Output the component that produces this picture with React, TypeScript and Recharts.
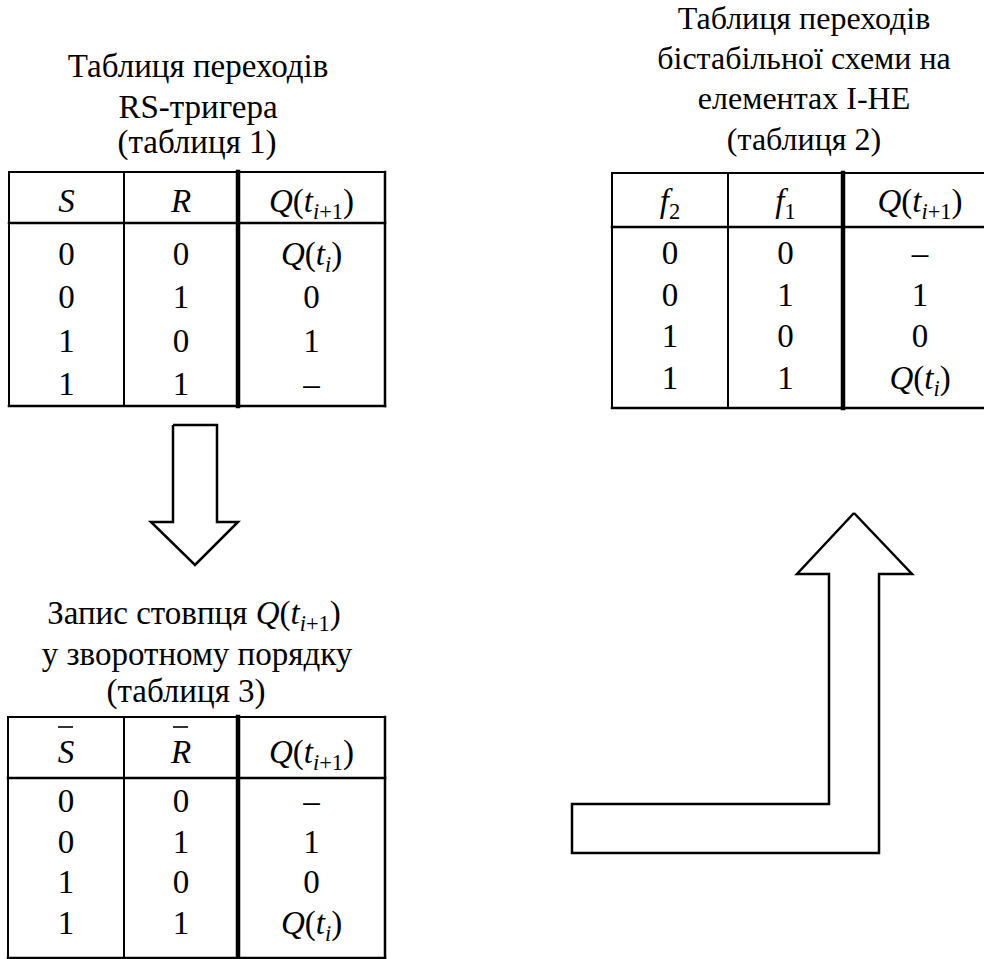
import { ComposedChart, XAxis, YAxis, Scatter, Line, ReferenceLine } from "recharts";

const W = 984;
const H = 959;
const FONT = "Liberation Serif";

// table 1: RS-trigger transitions
const t1Title = ["Таблиця переходів", "RS-тригера", "(таблиця 1)"];
const t1Header = ["$S$", "$R$", "$Q(t_{i+1})$"];
const t1S = ["0", "0", "1", "1"];
const t1R = ["0", "1", "0", "1"];
const t1Q = ["$Q(t_i)$", "0", "1", "–"];

// table 2: bistable circuit on NAND gates
const t2Title = ["Таблиця переходів", "бістабільної схеми на", "елементах І-НЕ", "(таблиця 2)"];
const t2Header = ["$f_2$", "$f_1$", "$Q(t_{i+1})$"];
const t2F2 = ["0", "0", "1", "1"];
const t2F1 = ["0", "1", "0", "1"];
const t2Q = ["–", "1", "0", "$Q(t_i)$"];

// table 3: Q column written in reverse order
const t3Title = ["Запис стовпця $Q(t_{i+1})$", "у зворотному порядку", "(таблиця 3)"];
const t3Header = ["$~S$", "$~R$", "$Q(t_{i+1})$"];
const t3S = ["0", "0", "1", "1"];
const t3R = ["0", "1", "0", "1"];
const t3Q = ["–", "1", "0", "$Q(t_i)$"];

// arrow outlines
const downArrow = [
  { x: 173, y: 425 }, { x: 217, y: 425 }, { x: 217, y: 522 }, { x: 238, y: 522 },
  { x: 195, y: 565 }, { x: 151, y: 522 }, { x: 173, y: 522 }, { x: 173, y: 425 },
];
const bentArrow = [
  { x: 854, y: 513 }, { x: 912, y: 574 }, { x: 879, y: 574 }, { x: 879, y: 853 },
  { x: 572, y: 853 }, { x: 572, y: 804 }, { x: 829, y: 804 }, { x: 829, y: 574 },
  { x: 797, y: 574 }, { x: 854, y: 513 },
];

type Layout = {
  edges: number[];
  top: number;
  sep: number;
  bottom: number;
  headBase: number;
  rowBase: number;
  rowStep: number;
  titleX: number[];
  titleBase: number[];
  titleSize: number;
  rightBorder: boolean;
};

const lay1: Layout = {
  edges: [9, 124, 238, 385], top: 172, sep: 223, bottom: 406,
  headBase: 212, rowBase: 265, rowStep: 43.3,
  titleX: [198, 198, 197], titleBase: [77, 118, 153], titleSize: 33, rightBorder: true,
};
const lay2: Layout = {
  edges: [612, 728, 843, 997], top: 173, sep: 227, bottom: 408,
  headBase: 212, rowBase: 264, rowStep: 41.7,
  titleX: [804, 804, 804, 804], titleBase: [29, 69, 109, 150], titleSize: 32, rightBorder: false,
};
const lay3: Layout = {
  edges: [8, 124, 238, 385], top: 717, sep: 778, bottom: 958,
  headBase: 763, rowBase: 812, rowStep: 40.7,
  titleX: [194, 197, 186], titleBase: [624, 665, 702], titleSize: 33, rightBorder: true,
};

type Span = { t: string; it: boolean; sub: boolean };

function parse(s: string): Span[] {
  const out: Span[] = [];
  s.split("$").forEach((p, k) => {
    if (k % 2 === 0) {
      if (p) out.push({ t: p, it: false, sub: false });
      return;
    }
    let i = 0;
    while (i < p.length) {
      const ch = p[i];
      if (ch === "_") {
        let body = p[i + 1];
        if (body === "{") {
          const e = p.indexOf("}", i);
          body = p.slice(i + 2, e);
          i = e + 1;
        } else {
          i += 2;
        }
        for (const c of body) out.push({ t: c, it: /[a-z]/i.test(c), sub: true });
      } else if (ch === "~") {
        i++;
      } else {
        out.push({ t: ch, it: /[a-z]/i.test(ch), sub: false });
        i++;
      }
    }
  });
  return out;
}

function RichText({ x, y, s, size }: { x: number; y: number; s: string; size: number }) {
  const spans = parse(s);
  const bar = s.includes("~");
  // plain labels go out as a bare <text>, no tspans
  if (spans.length === 1 && !spans[0].sub) {
    return (
      <g>
        <text
          x={x}
          y={y}
          textAnchor="middle"
          fill="#000"
          fontFamily={FONT}
          fontSize={size}
          fontStyle={spans[0].it ? "italic" : undefined}
        >
          {spans[0].t}
        </text>
        {bar && <line x1={x - 8} x2={x + 7} y1={y - 36} y2={y - 36} stroke="#000" strokeWidth={1.6} />}
      </g>
    );
  }
  const shift = size * 0.22;
  let cur = 0;
  return (
    <text x={x} y={y} textAnchor="middle" fill="#000" fontFamily={FONT} fontSize={size}>
      {spans.map((sp, k) => {
        const want = sp.sub ? shift : 0;
        const dy = want - cur;
        cur = want;
        return (
          <tspan
            key={k}
            dy={dy === 0 ? undefined : dy}
            fontStyle={sp.it ? "italic" : undefined}
            fontSize={sp.sub ? size * 0.68 : undefined}
          >
            {sp.t}
          </tspan>
        );
      })}
    </text>
  );
}

function cellPoints(lay: Layout, header: string[], cols: string[][]) {
  const centers = lay.edges.slice(0, -1).map((e, i) => (e + lay.edges[i + 1]) / 2);
  const pts: { x: number; y: number; label: string; size: number }[] = [];
  header.forEach((h, c) => pts.push({ x: centers[c], y: lay.headBase, label: h, size: 33 }));
  cols.forEach((col, c) =>
    col.forEach((v, r) => pts.push({ x: centers[c], y: lay.rowBase + r * lay.rowStep, label: v, size: 33 }))
  );
  return pts;
}

function titlePoints(lay: Layout, lines: string[]) {
  return lines.map((l, i) => ({ x: lay.titleX[i], y: lay.titleBase[i], label: l, size: lay.titleSize }));
}

function gridSegments(lay: Layout) {
  const [l, c1, c2, r] = lay.edges;
  const segs: { a: { x: number; y: number }; b: { x: number; y: number }; w: number }[] = [
    { a: { x: l, y: lay.top }, b: { x: r, y: lay.top }, w: 2 },
    { a: { x: l, y: lay.sep }, b: { x: r, y: lay.sep }, w: 2.5 },
    { a: { x: l, y: lay.bottom }, b: { x: r, y: lay.bottom }, w: 2.5 },
    { a: { x: l, y: lay.top }, b: { x: l, y: lay.bottom }, w: 2 },
    { a: { x: c1, y: lay.top }, b: { x: c1, y: lay.bottom }, w: 2 },
    { a: { x: c2, y: lay.top }, b: { x: c2, y: lay.bottom }, w: 4.5 },
  ];
  if (lay.rightBorder) segs.push({ a: { x: r, y: lay.top }, b: { x: r, y: lay.bottom }, w: 2.5 });
  return segs;
}

const cells = [
  ...cellPoints(lay1, t1Header, [t1S, t1R, t1Q]),
  ...cellPoints(lay2, t2Header, [t2F2, t2F1, t2Q]),
  ...cellPoints(lay3, t3Header, [t3S, t3R, t3Q]),
];
const titles = [...titlePoints(lay1, t1Title), ...titlePoints(lay2, t2Title), ...titlePoints(lay3, t3Title)];
const segments = [...gridSegments(lay1), ...gridSegments(lay2), ...gridSegments(lay3)];

const textShape = (p: any) => <RichText x={p.cx} y={p.cy} s={p.payload.label} size={p.payload.size} />;

export default function App() {
  return (
    <div style={{ position: "absolute", left: 0, top: 0, width: W, height: H, background: "#fff" }}>
      <ComposedChart width={W} height={H} margin={{ top: 0, right: 0, bottom: 0, left: 0 }}>
        <XAxis dataKey="x" type="number" domain={[0, W]} hide allowDataOverflow />
        <YAxis dataKey="y" type="number" domain={[0, H]} reversed hide allowDataOverflow />
        {segments.map((s, i) => (
          <ReferenceLine key={i} segment={[s.a, s.b]} stroke="#000" strokeWidth={s.w} strokeLinecap="square" ifOverflow="visible" />
        ))}
        <Line data={downArrow} dataKey="y" type="linear" stroke="#000" strokeWidth={2.5} dot={false} isAnimationActive={false} strokeLinejoin="miter" />
        <Line data={bentArrow} dataKey="y" type="linear" stroke="#000" strokeWidth={2.5} dot={false} isAnimationActive={false} strokeLinejoin="miter" />
        <Scatter data={titles} shape={textShape} isAnimationActive={false} />
        <Scatter data={cells} shape={textShape} isAnimationActive={false} />
      </ComposedChart>
    </div>
  );
}
